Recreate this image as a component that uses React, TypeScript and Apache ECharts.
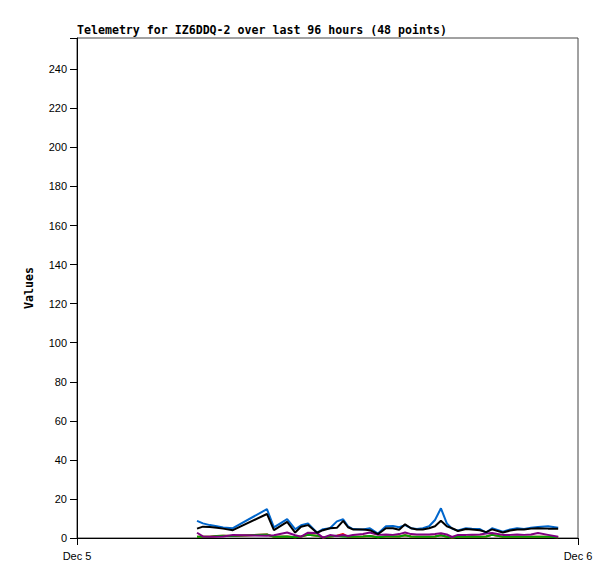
import React, { useEffect, useRef } from "react";
import * as echarts from "echarts";

const times = [
  "05:45", "06:02", "06:22", "06:42", "07:00", "07:28", "09:06", "09:26",
  "10:04", "10:27", "10:44", "11:04", "11:30", "11:47", "12:07", "12:27",
  "12:45", "12:59", "13:13", "13:42", "14:02", "14:25", "14:48", "15:08",
  "15:26", "15:43", "16:00", "16:17", "16:34", "16:52", "17:09", "17:26",
  "17:43", "17:58", "18:15", "18:38", "18:55", "19:18", "19:36", "19:53",
  "20:24", "20:45", "21:05", "21:25", "21:45", "22:05", "22:34", "23:03",
];

const blueValues = [
  8.8, 7.5, 6.6, 6.0, 5.4, 5.0, 14.8, 5.4,
  9.7, 4.5, 6.5, 7.5, 2.7, 4.5, 5.0, 8.5,
  9.6, 6.0, 4.6, 4.4, 5.0, 2.3, 6.0, 6.1,
  5.5, 6.6, 5.0, 4.6, 5.0, 6.0, 9.2, 15.2,
  7.5, 4.8, 3.8, 5.0, 4.8, 4.6, 2.8, 5.0,
  3.2, 4.4, 5.0, 4.6, 5.2, 5.6, 6.0, 5.2,
];

const blackValues = [
  4.8, 5.8, 5.6, 5.2, 4.8, 4.0, 12.3, 4.0,
  8.3, 2.8, 5.8, 6.6, 2.7, 4.0, 5.0, 5.2,
  8.8, 5.5, 4.4, 4.4, 4.0, 2.0, 5.0, 5.0,
  4.2, 7.0, 5.0, 4.4, 4.4, 5.0, 6.0, 8.8,
  6.0, 5.0, 3.6, 4.6, 4.4, 4.0, 3.0, 4.4,
  2.8, 3.8, 4.4, 4.4, 4.8, 5.0, 4.8, 4.8,
];

const purpleValues = [
  2.7, 0.8, 0.6, 0.7, 0.8, 1.5, 1.2, 1.4,
  2.8, 1.4, 0.7, 2.7, 2.5, 0.2, 1.5, 1.0,
  1.5, 1.0, 1.5, 2.0, 2.8, 1.6, 1.8, 1.6,
  2.0, 2.8, 2.0, 1.8, 1.8, 1.8, 2.0, 2.4,
  1.8, 0.5, 1.6, 1.6, 1.7, 1.8, 2.3, 2.6,
  1.6, 1.6, 1.8, 1.6, 1.8, 2.6, 1.6, 0.6,
];

const greenValues = [
  0.6, 0.6, 0.6, 1.0, 1.2, 1.0, 1.8, 0.6,
  0.8, 0.4, 0.8, 1.6, 1.2, 0.3, 0.8, 1.2,
  0.8, 0.6, 0.6, 0.8, 1.0, 0.4, 0.8, 0.8,
  0.8, 1.4, 0.8, 0.6, 0.6, 0.6, 0.8, 1.4,
  0.6, 0.2, 0.6, 0.6, 0.8, 0.6, 0.8, 1.6,
  0.6, 0.6, 0.6, 0.6, 0.6, 0.6, 0.6, 0.4,
];

const redValues = [
  0.6, 0.6, 0.6, 1.0, 1.2, 1.0, 1.8, 0.6,
  0.8, 0.4, 0.8, 1.6, 1.2, 0.3, 0.8, 1.2,
  2.0, 0.6, 0.6, 0.8, 1.0, 0.4, 0.8, 0.8,
  0.8, 1.4, 0.8, 0.6, 0.6, 0.6, 0.8, 1.4,
  0.6, 0.2, 0.6, 0.6, 0.8, 0.6, 0.8, 1.6,
  0.6, 0.6, 0.6, 0.6, 0.6, 0.6, 0.6, 0.4,
];

const xTickLabels: Record<number, string> = { 0: "Dec 5", 24: "Dec 6" };
const yTicks = { min: 0, max: 256, interval: 20 };
const title = "Telemetry for IZ6DDQ-2 over last 96 hours (48 points)";

function toHours(t: string): number {
  const [h, m] = t.split(":").map(Number);
  return h + m / 60;
}

function pairs(values: number[]): [number, number][] {
  return values.map((v, i) => [toHours(times[i]), v]);
}

export default function App() {
  const ref = useRef<HTMLDivElement>(null);

  useEffect(() => {
    if (!ref.current) return;
    const chart = echarts.init(ref.current, undefined, { renderer: "svg" });
    const lineSeries = (name: string, values: number[], color: string, z: number) => ({
      name,
      type: "line",
      data: pairs(values),
      showSymbol: false,
      symbol: "none",
      z,
      lineStyle: { color, width: 2 },
      itemStyle: { color },
    });
    chart.setOption({
      animation: false,
      backgroundColor: "#ffffff",
      title: {
        text: title,
        left: 77,
        top: 24,
        padding: 0,
        textStyle: {
          fontFamily: "DejaVu Sans Mono",
          fontWeight: "bold",
          fontSize: 11.6,
          color: "#000",
        },
      },
      grid: { left: 77, right: 37, top: 38, bottom: 41, show: true, borderColor: "#444", borderWidth: 1, backgroundColor: "transparent" },
      xAxis: {
        type: "value",
        min: 0,
        max: 24,
        interval: 24,
        axisLine: { lineStyle: { color: "#000", width: 1 } },
        axisTick: { show: true, length: 7, lineStyle: { color: "#000" } },
        splitLine: { show: false },
        axisLabel: {
          formatter: (v: number) => xTickLabels[v] ?? "",
          fontFamily: "Liberation Sans",
          fontSize: 11,
          color: "#000",
          margin: 12,
        },
      },
      yAxis: {
        type: "value",
        min: yTicks.min,
        max: yTicks.max,
        interval: yTicks.interval,
        name: "Values",
        nameLocation: "middle",
        nameGap: 42,
        nameTextStyle: {
          fontFamily: "DejaVu Sans Mono",
          fontWeight: "bold",
          fontSize: 11.6,
          color: "#000",
        },
        axisLine: { show: true, lineStyle: { color: "#000", width: 1 } },
        axisTick: { show: true, length: 7, lineStyle: { color: "#000" } },
        splitLine: { show: false },
        axisLabel: {
          fontFamily: "Liberation Sans",
          fontSize: 11,
          color: "#000",
          margin: 10,
          formatter: (v: number) => (v > 240 ? "" : String(v)),
        },
      },
      series: [
        lineSeries("red", redValues, "#ff0000", 1),
        lineSeries("green", greenValues, "#00a000", 2),
        lineSeries("purple", purpleValues, "#800080", 3),
        lineSeries("blue", blueValues, "#0066cc", 4),
        lineSeries("black", blackValues, "#000000", 5),
      ],
    });
    return () => chart.dispose();
  }, []);

  return (
    <div
      ref={ref}
      style={{ position: "absolute", left: 0, top: 0, width: 615, height: 579 }}
    />
  );
}
